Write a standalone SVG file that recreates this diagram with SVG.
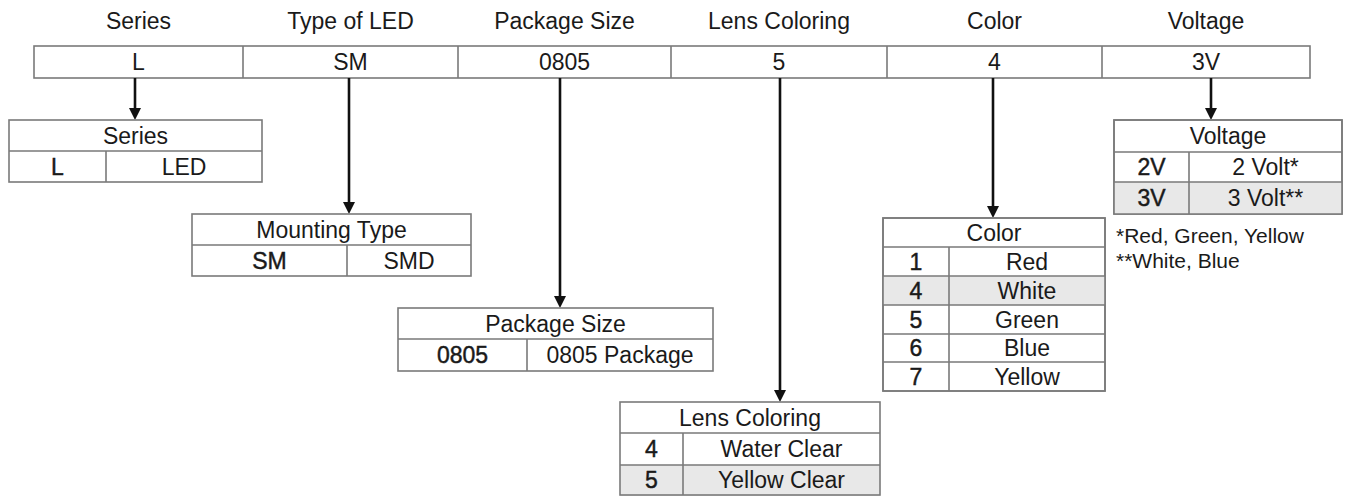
<svg xmlns="http://www.w3.org/2000/svg" width="1345" height="496" viewBox="0 0 1345 496">
<style>
text{font-family:"Liberation Sans",Arial,sans-serif;fill:#1a1a1a;text-anchor:middle}
.h{font-size:23px}
.t{font-size:23px}
.c{font-size:23px;stroke:#1a1a1a;stroke-width:0.45px}
.f{font-size:21px;text-anchor:start}
.box{fill:#fff;stroke:#7a7a7a;stroke-width:1.6}
.ln{stroke:#7a7a7a;stroke-width:1.6;fill:none}
.sh{fill:#e8e8e8}
.ar{stroke:#111;stroke-width:2.6;fill:none;marker-end:url(#ah)}
</style>
<defs>
<marker id="ah" viewBox="0 0 12 12" refX="8" refY="6" markerWidth="12" markerHeight="12" markerUnits="userSpaceOnUse" orient="auto">
<path d="M0,0 L12,6 L0,12 z" fill="#111"/>
</marker>
</defs>
<rect width="1345" height="496" fill="#fff"/>

<g id="bar">
<text class="h" x="138.5" y="29">Series</text>
<text class="h" x="350.5" y="29">Type of LED</text>
<text class="h" x="564.5" y="29">Package Size</text>
<text class="h" x="779" y="29">Lens Coloring</text>
<text class="h" x="994.5" y="29">Color</text>
<text class="h" x="1206" y="29">Voltage</text>
<rect class="box" x="34" y="46" width="1276" height="32"/>
<path class="ln" d="M243,46V78M458,46V78M671,46V78M887,46V78M1102,46V78"/>
<text class="t" x="138.5" y="70">L</text>
<text class="t" x="350.5" y="70">SM</text>
<text class="t" x="564.5" y="70">0805</text>
<text class="t" x="779" y="70">5</text>
<text class="t" x="994.5" y="70">4</text>
<text class="t" x="1206" y="70">3V</text>
</g>

<g id="connectors">
<line class="ar" x1="135" y1="78" x2="135" y2="116"/>
<line class="ar" x1="349" y1="78" x2="349" y2="210"/>
<line class="ar" x1="560" y1="78" x2="560" y2="304"/>
<line class="ar" x1="780" y1="78" x2="780" y2="398"/>
<line class="ar" x1="993" y1="78" x2="993" y2="214"/>
<line class="ar" x1="1211" y1="78" x2="1211" y2="116"/>
</g>

<g id="series">
<rect class="box" x="9" y="120" width="253" height="62"/>
<path class="ln" d="M9,151H262M106,151V182"/>
<text class="t" x="135.5" y="144">Series</text>
<text class="c" x="57.5" y="175">L</text>
<text class="t" x="184" y="175">LED</text>
</g>

<g id="mounting">
<rect class="box" x="192" y="214" width="279" height="62"/>
<path class="ln" d="M192,245H471M347,245V276"/>
<text class="t" x="331.5" y="238">Mounting Type</text>
<text class="c" x="269.5" y="269">SM</text>
<text class="t" x="409" y="269">SMD</text>
</g>

<g id="package">
<rect class="box" x="398" y="308" width="315" height="63"/>
<path class="ln" d="M398,339H713M527,339V371"/>
<text class="t" x="555.5" y="332">Package Size</text>
<text class="c" x="462.5" y="363">0805</text>
<text class="t" x="620" y="363">0805 Package</text>
</g>

<g id="lens">
<rect class="sh" x="620" y="465" width="260" height="31"/>
<rect class="box" x="620" y="402" width="260" height="93" style="fill:none"/>
<path class="ln" d="M620,433H880M620,465H880M683,433V495"/>
<text class="t" x="750" y="426">Lens Coloring</text>
<text class="c" x="651.5" y="457">4</text>
<text class="t" x="781.5" y="457">Water Clear</text>
<text class="c" x="651.5" y="488">5</text>
<text class="t" x="781.5" y="488">Yellow Clear</text>
</g>

<g id="color">
<rect class="box" x="883" y="218" width="222" height="173"/>
<rect class="sh" x="883" y="276" width="222" height="29"/>
<path class="ln" d="M883,218H1105V391H883Z"/>
<path class="ln" d="M883,247H1105M883,276H1105M883,305H1105M883,334H1105M883,362H1105M949,247V391"/>
<text class="t" x="994" y="241">Color</text>
<text class="c" x="916" y="270">1</text>
<text class="t" x="1027" y="270">Red</text>
<text class="c" x="916" y="299">4</text>
<text class="t" x="1027" y="299">White</text>
<text class="c" x="916" y="328">5</text>
<text class="t" x="1027" y="328">Green</text>
<text class="c" x="916" y="356">6</text>
<text class="t" x="1027" y="356">Blue</text>
<text class="c" x="916" y="385">7</text>
<text class="t" x="1027" y="385">Yellow</text>
</g>

<g id="voltage">
<rect class="box" x="1114" y="120" width="228" height="94"/>
<rect class="sh" x="1114" y="182" width="228" height="32"/>
<path class="ln" d="M1114,120H1342V214H1114Z"/>
<path class="ln" d="M1114,152H1342M1114,182H1342M1189,152V214"/>
<text class="t" x="1228" y="144">Voltage</text>
<text class="c" x="1151.5" y="175">2V</text>
<text class="t" x="1265.5" y="175">2 Volt*</text>
<text class="c" x="1151.5" y="206">3V</text>
<text class="t" x="1265.5" y="206">3 Volt**</text>
</g>

<g id="notes">
<text class="f" x="1116" y="243">*Red, Green, Yellow</text>
<text class="f" x="1116" y="268">**White, Blue</text>
</g>
</svg>
